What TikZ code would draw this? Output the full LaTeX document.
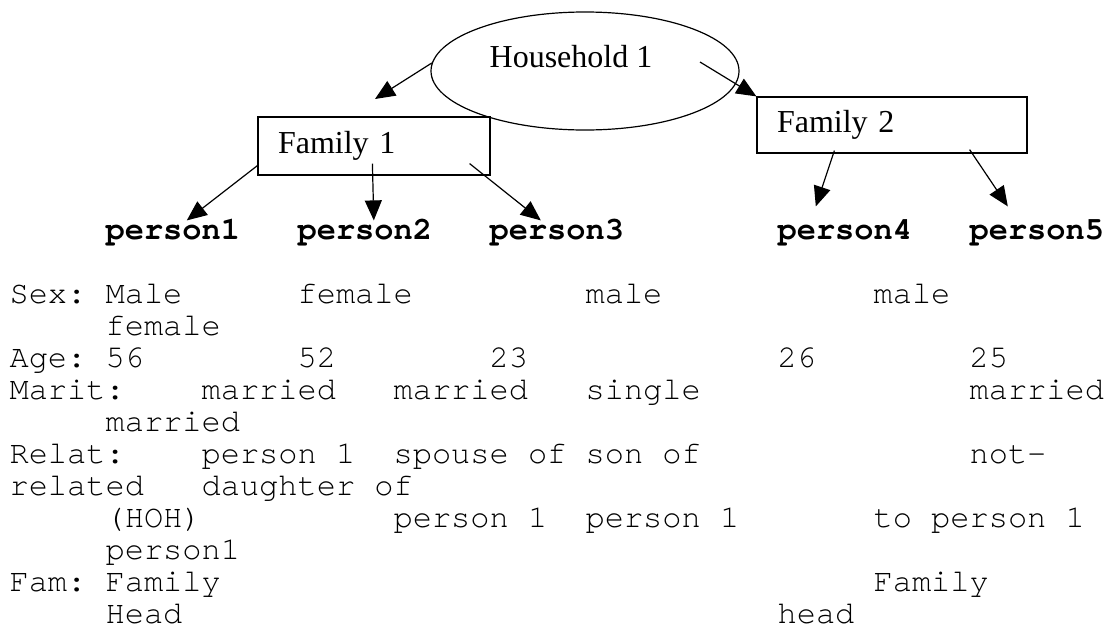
\documentclass[tikz,border=0pt]{standalone}
\usepackage{fontspec}
\setmainfont{Liberation Serif}
\setmonofont{TeX Gyre Cursor}
\usetikzlibrary{shapes.geometric,arrows.meta}
\begin{document}
\begin{tikzpicture}[x=1pt,y=1pt,line width=1.2pt,->,>={Triangle[length=20pt,width=17pt]}]
	\tikzstyle{house}=[ellipse,draw,minimum width=308pt,minimum height=118pt,inner sep=0pt]
	\tikzstyle{family}=[rectangle,draw,align=left,inner xsep=20pt,inner ysep=0pt,font=\fontsize{32}{32}\selectfont]
	\tikzstyle{person}=[anchor=base west,inner sep=0pt,text height=18pt,text depth=6pt,font=\ttfamily\bfseries\fontsize{32}{32}\selectfont]
	\tikzstyle{cell}=[anchor=base west,inner sep=0pt,font=\ttfamily\fontsize{32}{32}\selectfont]
	\useasboundingbox (0,0) rectangle (1107,-627);

	\node[house] (H1) at (585,-71) {};
	\node[anchor=base,inner sep=0pt,font=\fontsize{32}{32}\selectfont] (H1T) at (571,-67) {Household 1};
	\node[family,text width=192pt,minimum height=58pt] (F1) at (374,-146) {Family 1};
	\node[family,text width=230pt,minimum height=56pt] (F2) at (892,-125) {Family 2};
	\coordinate (F1in) at (375,-99);

	\node[person] (P1) at (105,-239) {person1};
	\node[person] (P2) at (297,-239) {person2};
	\node[person] (P3) at (489,-239) {person3};
	\node[person] (P4) at (777,-239) {person4};
	\node[person] (P5) at (969,-239) {person5};

	\draw (H1.177) -- (F1in);
	\draw ([xshift=115pt,yshift=9pt]H1.center) -- (F2.north west);

	\draw ([yshift=10pt]F1.south west) -- ([xshift=14pt]P1.north);
	\draw ([xshift=115pt,yshift=12pt]F1.south west) -- ([xshift=9pt]P2.north);
	\draw ([xshift=-21pt,yshift=12pt]F1.south east) -- ([xshift=-16pt]P3.north);

	\draw ([xshift=78pt,yshift=3pt]F2.south west) -- ([xshift=-29pt,yshift=14pt]P4.north);
	\draw ([xshift=-58pt,yshift=4pt]F2.south east) -- ([xshift=-29pt,yshift=14pt]P5.north);

	% record lines, one column = one character
	\foreach \row/\col/\txt in {0/0/{Sex: Male},0/15/female,0/30/male,0/45/male,
		1/5/female,
		2/0/{Age: 56},2/15/52,2/25/23,2/40/26,2/50/25,
		3/0/Marit:,3/10/married,3/20/married,3/30/single,3/50/married,
		4/5/married,
		5/0/Relat:,5/10/{person 1},5/20/{spouse of},5/30/{son of},5/50/not-,
		6/0/related,6/10/{daughter of},
		7/5/(HOH),7/20/{person 1},7/30/{person 1},7/45/{to person 1},
		8/5/person1,
		9/0/{Fam: Family},9/45/Family,
		10/5/Head,10/40/head}
		\node[cell] (C\row-\col) at ({9+19.2*\col},{-303-32*\row}) {\txt};
\end{tikzpicture}
\end{document}
